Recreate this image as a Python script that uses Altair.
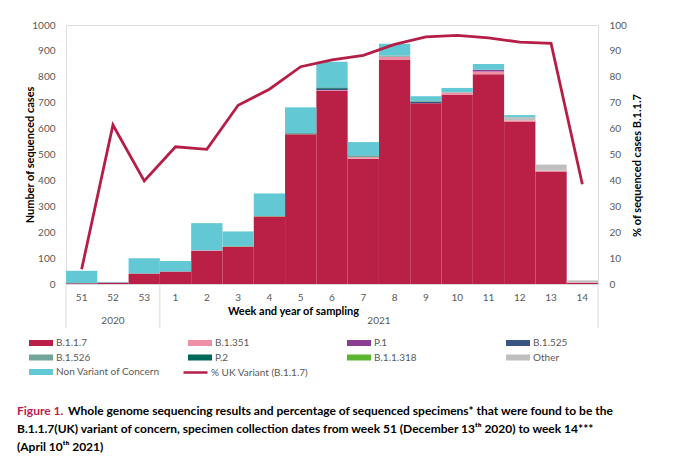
import altair as alt
import pandas as pd

# ---------------- data ----------------
weeks = ["51", "52", "53", "1", "2", "3", "4", "5", "6", "7", "8", "9", "10", "11", "12", "13", "14"]
years = ["2020", "2021"]

variants = ["B.1.1.7", "B.1.351", "P.1", "B.1.525", "B.1.526", "P.2", "B.1.1.318", "Other",
            "Non Variant of Concern"]
colors = ["#BA1F45", "#EE8FA5", "#8B3D92", "#3A5583", "#74A59A", "#00695A", "#5CB531", "#BFBFBF",
          "#62C8D3"]

b117 = [3, 5, 41, 48, 128, 144, 261, 578, 745, 484, 865, 698, 730, 810, 627, 434, 5]
b1351 = [0, 0, 0, 0, 2, 0, 0, 0, 3, 6, 12, 0, 10, 10, 5, 4, 1]
p1 = [0, 1, 0, 0, 0, 0, 0, 0, 1, 0, 0, 0, 0, 7, 0, 0, 0]
b1525 = [0, 0, 0, 0, 0, 0, 0, 0, 5, 0, 0, 5, 0, 0, 0, 0, 0]
b1526 = [0, 0, 0, 0, 0, 2, 1, 5, 0, 4, 5, 4, 0, 0, 0, 0, 0]
p2 = [0, 0, 0, 0, 0, 0, 0, 0, 5, 2, 0, 0, 0, 0, 0, 0, 0]
b11318 = [0, 0, 0, 0, 0, 1, 1, 0, 0, 0, 0, 0, 0, 0, 0, 0, 0]
other = [0, 0, 0, 0, 0, 0, 0, 0, 0, 0, 0, 0, 0, 0, 12, 23, 8]
nvoc = [48, 2, 58, 41, 105, 56, 86, 99, 99, 52, 46, 18, 17, 22, 8, 0, 0]

pct_uk = [5.7, 61.4, 39.8, 53.0, 52.0, 69.0, 75.2, 83.9, 86.5, 88.3, 92.5, 95.4, 96.0, 95.0, 93.4, 92.9, 38.5]
line_label = "% UK Variant (B.1.1.7)"
line_color = "#B51F47"

caption_lead = "Figure 1."
caption_1 = "Whole genome sequencing results and percentage of sequenced specimens* that were found to be the"
caption_2 = "B.1.1.7(UK) variant of concern, specimen collection dates from week 51 (December 13\u1d57\u02b0 2020) to week 14***"
caption_3 = "(April 10\u1d57\u02b0 2021)"

series = [b117, b1351, p1, b1525, b1526, p2, b11318, other, nvoc]

rows = []
for i, (v, vals) in enumerate(zip(variants, series)):
    for w, c in zip(weeks, vals):
        rows.append({"week": w, "variant": v, "cases": c, "ord": i})
bars_df = pd.DataFrame(rows)

line_df = pd.DataFrame({"week": weeks, "pct": pct_uk, "series": [line_label] * len(weeks)})

year_df = pd.DataFrame({"week": ["52", "7"], "year": years})
sep_df = pd.DataFrame({"week": ["51", "1", "14"], "side": ["left", "left", "right"]})
dummy = pd.DataFrame({"a": [0]})

# ---------------- layout ----------------
W, H = 532, 259
FONT = "Lato"
GREY = "#595959"

xscale = alt.Scale(domain=weeks, paddingInner=0, paddingOuter=0)

xaxis = alt.Axis(
    title="Week and year of sampling", labelAngle=0, ticks=False, grid=False,
    domainColor="#D9D9D9", domainWidth=1, labelColor=GREY, labelFontSize=10, labelFont=FONT,
    labelPadding=8, titleFont=FONT, titleFontSize=11, titleFontWeight="bold", titleColor="#000000",
    titleX=227, titleY=27, titleBaseline="middle", titleAlign="center",
)

bars = alt.Chart(bars_df).mark_bar(strokeWidth=0).encode(
    x=alt.X("week:N", scale=xscale, axis=xaxis, sort=weeks),
    y=alt.Y("cases:Q", scale=alt.Scale(domain=[0, 1000], nice=False),
            axis=alt.Axis(title="Number of sequenced cases", values=list(range(0, 1001, 100)),
                          format="d", ticks=False, domain=False, grid=False, labelColor=GREY,
                          labelFontSize=10, labelFont=FONT, labelPadding=11, titleFont=FONT,
                          titleFontSize=11, titleFontWeight="bold", titleColor="#000000",
                          titleX=-36, titleY=H / 2, titleAngle=270, titleBaseline="middle",
                          titleAlign="center")),
    color=alt.Color("variant:N", scale=alt.Scale(domain=variants, range=colors),
                    legend=alt.Legend(title=None, orient="none", legendX=-31, legendY=312,
                                      direction="horizontal", columns=4, gridAlign="all",
                                      columnPadding=28, rowPadding=3.5,
                                      symbolType="M-2,-0.5H2V0.5H-2Z", symbolSize=144,
                                      symbolStrokeWidth=0, labelFont=FONT, labelFontSize=10,
                                      labelColor=GREY, labelOffset=9)),
    order=alt.Order("ord:Q"),
)

line = alt.Chart(line_df).mark_line(strokeWidth=2.8).encode(
    x=alt.X("week:N", scale=xscale, sort=weeks),
    y=alt.Y("pct:Q", scale=alt.Scale(domain=[0, 100], nice=False),
            axis=alt.Axis(orient="right", title="% of sequenced cases B.1.1.7",
                          values=list(range(0, 101, 10)), ticks=False, domain=False, grid=False,
                          labelColor=GREY, labelFontSize=10, labelFont=FONT, labelPadding=11,
                          titleFont=FONT, titleFontSize=11, titleFontWeight="bold",
                          titleColor="#000000", titleX=39, titleY=140, titleAngle=270,
                          titleBaseline="middle", titleAlign="center")),
    stroke=alt.Stroke("series:N", scale=alt.Scale(domain=[line_label], range=[line_color]),
                      legend=alt.Legend(title=None, orient="none", legendX=116, legendY=334,
                                        symbolType="stroke", symbolSize=576, symbolStrokeWidth=2.5,
                                        labelFont=FONT, labelFontSize=10, labelColor=GREY,
                                        labelOffset=2)),
)

year_2020 = alt.Chart(year_df).transform_filter(alt.datum.year == "2020").mark_text(
    font=FONT, fontSize=10, color=GREY, baseline="middle", align="center"
).encode(x=alt.X("week:N", scale=xscale, sort=weeks, bandPosition=0.5),
         y=alt.value(295.5), text="year:N")

year_2021 = alt.Chart(year_df).transform_filter(alt.datum.year == "2021").mark_text(
    font=FONT, fontSize=10, color=GREY, baseline="middle", align="center"
).encode(x=alt.X("week:N", scale=xscale, sort=weeks, bandPosition=1),
         y=alt.value(295.5), text="year:N")

sep_left = alt.Chart(sep_df).transform_filter(alt.datum.side == "left").mark_rule(
    color="#D9D9D9", strokeWidth=1
).encode(x=alt.X("week:N", scale=xscale, sort=weeks, bandPosition=0),
         y=alt.value(H), y2=alt.value(H + 44))

sep_right = alt.Chart(sep_df).transform_filter(alt.datum.side == "right").mark_rule(
    color="#D9D9D9", strokeWidth=1
).encode(x=alt.X("week:N", scale=xscale, sort=weeks, bandPosition=1),
         y=alt.value(H), y2=alt.value(H + 44))

cap_style = dict(font=FONT, fontSize=12, fontWeight="bold", baseline="middle", align="left")
cap0 = alt.Chart(dummy).mark_text(text=caption_lead, color="#C0204F", **cap_style).encode(
    x=alt.value(-49), y=alt.value(386))
cap1 = alt.Chart(dummy).mark_text(text=caption_1, color="#000000", **cap_style).encode(
    x=alt.value(2), y=alt.value(386))
cap2 = alt.Chart(dummy).mark_text(text=caption_2, color="#000000", **cap_style).encode(
    x=alt.value(-49), y=alt.value(404))
cap3 = alt.Chart(dummy).mark_text(text=caption_3, color="#000000", **cap_style).encode(
    x=alt.value(-49), y=alt.value(422))

chart = alt.layer(
    bars, line, year_2020, year_2021, sep_left, sep_right, cap0, cap1, cap2, cap3
).resolve_scale(
    y="independent", color="independent", stroke="independent"
).properties(
    width=W, height=H,
    padding={"left": 58, "top": 17, "right": 74, "bottom": 170},
    autosize=alt.AutoSizeParams(type="none"),
).configure_view(stroke=None).configure(font=FONT, background="#FFFFFF")

chart.save("out.html", embed_options={"renderer": "svg", "actions": False})
